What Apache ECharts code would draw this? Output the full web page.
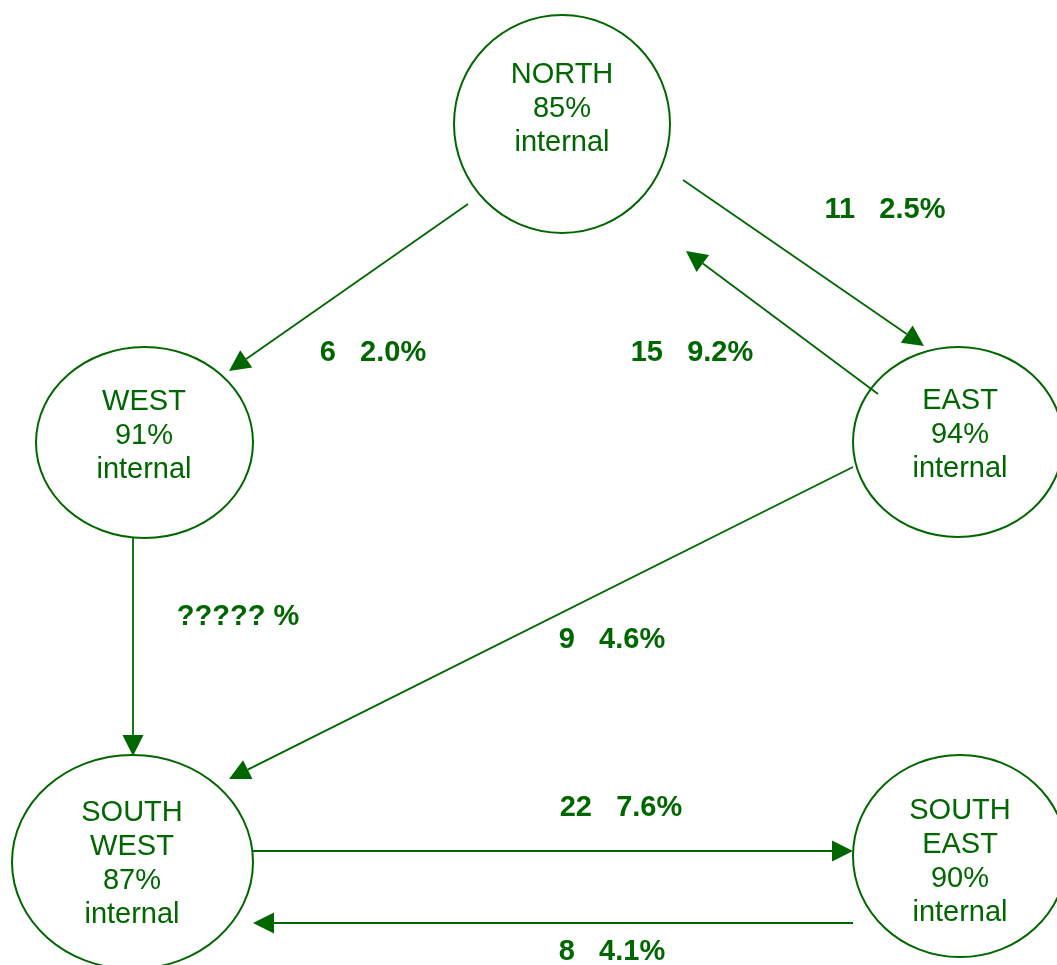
<!DOCTYPE html>
<html>
<head>
<meta charset="utf-8">
<script src="https://cdn.jsdelivr.net/npm/echarts@6/dist/echarts.min.js"></script>
<style>
  html, body { margin: 0; padding: 0; background: #ffffff; }
  #chart { width: 1057px; height: 965px; }
</style>
</head>
<body>
<div id="chart"></div>
<script>
// ---- data ----
const regionNames = ['NORTH', 'WEST', 'EAST', 'SOUTH\nWEST', 'SOUTH\nEAST'];
const internalPct = [85, 91, 94, 87, 90];

const flowFrom  = ['NORTH', 'NORTH', 'EAST', 'WEST', 'EAST', 'SOUTH\nWEST', 'SOUTH\nEAST'];
const flowTo    = ['WEST', 'EAST', 'NORTH', 'SOUTH\nWEST', 'SOUTH\nWEST', 'SOUTH\nEAST', 'SOUTH\nWEST'];
const flowCount = [6, 11, 15, null, 9, 22, 8];
const flowPct   = ['2.0', '2.5', '9.2', null, '4.6', '7.6', '4.1'];

// ---- diagram layout (in a 1057 x 965 plane) ----
const nodeCX = [562, 144.5, 958, 132.5, 960];
const nodeCY = [124, 442.5, 442, 862, 856];
const nodeRX = [108, 108.5, 105, 120.5, 107];
const nodeRY = [109, 95.5, 95, 107, 101];
const textCX = [562, 144, 960, 132, 960];
const textCY = [109, 436, 435, 864, 862];

const edgeX1 = [468, 683, 878, 133, 853, 253, 853];
const edgeY1 = [204, 180, 394, 538, 467, 851, 923];
const edgeX2 = [229, 924, 686, 133, 229, 853, 253];
const edgeY2 = [371, 346, 251, 756, 779, 851, 923];
const labelX = [373, 885, 692, 238, 612, 621, 612];
const labelY = [353, 210, 353, 617, 640, 808, 952];

const GREEN = '#006600';
const FONT_FAMILY = '"Liberation Sans", Arial, sans-serif';

function edgeLabel(i) {
  if (flowCount[i] == null) return '????? %';
  return flowCount[i] + '   ' + flowPct[i] + '%';
}

const chart = echarts.init(document.getElementById('chart'), null, { renderer: 'canvas' });

const option = {
  animation: false,
  backgroundColor: '#ffffff',
  grid: { left: 0, right: 0, top: 0, bottom: 0 },
  xAxis: { type: 'value', min: 0, max: 1057, show: false },
  yAxis: { type: 'value', min: 0, max: 965, inverse: true, show: false },
  series: [
    {
      type: 'custom',
      name: 'flows',
      coordinateSystem: 'cartesian2d',
      clip: false,
      silent: true,
      z: 2,
      data: flowFrom.map((f, i) => [edgeX1[i], edgeY1[i], edgeX2[i], edgeY2[i]]),
      encode: { x: [0, 2], y: [1, 3] },
      renderItem: function (params, api) {
        const p1 = api.coord([api.value(0), api.value(1)]);
        const p2 = api.coord([api.value(2), api.value(3)]);
        const dx = p2[0] - p1[0], dy = p2[1] - p1[1];
        const len = Math.sqrt(dx * dx + dy * dy);
        const ux = dx / len, uy = dy / len;
        const headLen = 21, headHalf = 10.5;
        const bx = p2[0] - ux * headLen, by = p2[1] - uy * headLen;
        return {
          type: 'group',
          children: [
            {
              type: 'line',
              shape: { x1: p1[0], y1: p1[1], x2: bx, y2: by },
              style: { stroke: GREEN, lineWidth: 1.8 }
            },
            {
              type: 'polygon',
              shape: { points: [[p2[0], p2[1]], [bx - uy * headHalf, by + ux * headHalf], [bx + uy * headHalf, by - ux * headHalf]] },
              style: { fill: GREEN }
            }
          ]
        };
      }
    },
    {
      type: 'custom',
      name: 'regions',
      coordinateSystem: 'cartesian2d',
      clip: false,
      silent: true,
      z: 3,
      data: regionNames.map((n, i) => [nodeCX[i], nodeCY[i]]),
      encode: { x: 0, y: 1 },
      renderItem: function (params, api) {
        const i = params.dataIndex;
        const c = api.coord([nodeCX[i], nodeCY[i]]);
        const c2 = api.coord([nodeCX[i] + nodeRX[i], nodeCY[i] + nodeRY[i]]);
        const t = api.coord([textCX[i], textCY[i]]);
        return {
          type: 'group',
          children: [
            {
              type: 'ellipse',
              shape: { cx: c[0], cy: c[1], rx: Math.abs(c2[0] - c[0]), ry: Math.abs(c2[1] - c[1]) },
              style: { fill: 'rgba(255,255,255,0)', stroke: GREEN, lineWidth: 2 }
            },
            {
              type: 'text',
              style: {
                text: regionNames[i] + '\n' + internalPct[i] + '%\ninternal',
                x: t[0], y: t[1],
                align: 'center', verticalAlign: 'middle',
                fontFamily: FONT_FAMILY, fontSize: 29, lineHeight: 34,
                fill: GREEN
              }
            }
          ]
        };
      }
    },
    {
      type: 'custom',
      name: 'flowLabels',
      coordinateSystem: 'cartesian2d',
      clip: false,
      silent: true,
      z: 4,
      data: flowFrom.map((f, i) => [labelX[i], labelY[i]]),
      encode: { x: 0, y: 1 },
      renderItem: function (params, api) {
        const i = params.dataIndex;
        const p = api.coord([api.value(0), api.value(1)]);
        return {
          type: 'text',
          style: {
            text: edgeLabel(i),
            x: p[0], y: p[1],
            align: 'center', verticalAlign: 'middle',
            fontFamily: FONT_FAMILY, fontSize: 29, fontWeight: 'bold',
            fill: GREEN
          }
        };
      }
    }
  ]
};

chart.setOption(option);
</script>
</body>
</html>
